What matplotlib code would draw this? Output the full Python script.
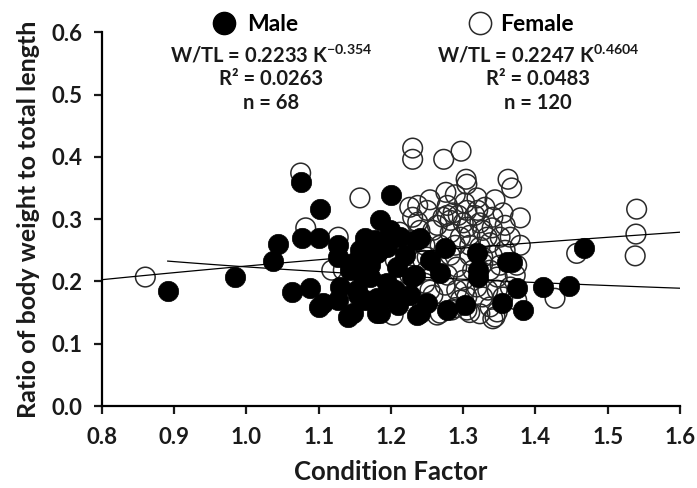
import numpy as np
import matplotlib
matplotlib.use('Agg')
import matplotlib.pyplot as plt
from matplotlib.lines import Line2D

plt.rcParams['font.family'] = ['Lato', 'DejaVu Sans']
plt.rcParams['font.weight'] = 'bold'
plt.rcParams['mathtext.fontset'] = 'custom'
plt.rcParams['mathtext.rm'] = 'Lato:bold'
plt.rcParams['mathtext.bf'] = 'Lato:bold'
plt.rcParams['mathtext.default'] = 'bf'

# Male (filled circles): condition factor K, W/TL
male_k = [0.891, 0.984, 1.037, 1.044, 1.063, 1.088, 1.100, 1.077, 1.100, 1.102,
          1.075, 1.127, 1.127, 1.127, 1.140, 1.154, 1.185, 1.200, 1.181, 1.164,
          1.240, 1.275, 1.229, 1.268, 1.319, 1.320, 1.250, 1.236, 1.278, 1.302,
          1.354, 1.361, 1.153, 1.171, 1.181, 1.147, 1.374, 1.383, 1.410, 1.446,
          1.467, 1.235, 1.233, 1.320, 1.181, 1.194, 1.208, 1.171, 1.147, 1.129,
          1.185, 1.185, 1.240, 1.106, 1.212, 1.194, 1.161, 1.367, 1.206, 1.219,
          1.157, 1.199, 1.143, 1.226, 1.254, 1.178, 1.210, 1.164]
male_w = [0.185, 0.207, 0.233, 0.260, 0.183, 0.189, 0.159, 0.270, 0.270, 0.316,
          0.359, 0.258, 0.239, 0.170, 0.143, 0.178, 0.298, 0.339, 0.149, 0.270,
          0.270, 0.253, 0.207, 0.213, 0.245, 0.218, 0.165, 0.146, 0.154, 0.162,
          0.165, 0.231, 0.186, 0.207, 0.173, 0.149, 0.189, 0.154, 0.191, 0.193,
          0.253, 0.266, 0.210, 0.207, 0.245, 0.255, 0.223, 0.226, 0.229, 0.191,
          0.170, 0.149, 0.149, 0.165, 0.271, 0.197, 0.207, 0.231, 0.186, 0.242,
          0.250, 0.282, 0.218, 0.178, 0.234, 0.266, 0.162, 0.170]

# Female (open circles)
female_k = [0.860, 1.082, 1.075, 1.157, 1.127, 1.118, 1.230, 1.230, 1.273, 1.297,
            1.304, 1.305, 1.276, 1.362, 1.367, 1.379, 1.319, 1.540, 1.539, 1.538,
            1.457, 1.427, 1.374, 1.344, 1.217, 1.203, 1.278, 1.305, 1.341, 1.355,
            1.347, 1.341, 1.258, 1.134, 1.230, 1.240, 1.302, 1.250, 1.272, 1.286,
            1.300, 1.323, 1.340, 1.351, 1.333, 1.296, 1.282, 1.258, 1.250, 1.291,
            1.300, 1.291, 1.347, 1.347, 1.365, 1.337, 1.268, 1.305, 1.327, 1.374,
            1.323, 1.237, 1.237, 1.226, 1.264, 1.278, 1.282, 1.293, 1.289, 1.305,
            1.327, 1.337, 1.327, 1.309, 1.337, 1.355, 1.244, 1.250, 1.254, 1.275,
            1.319, 1.327, 1.305, 1.323, 1.264, 1.284, 1.212, 1.185, 1.247, 1.309,
            1.313, 1.282, 1.268, 1.358, 1.316, 1.344, 1.254, 1.289, 1.330, 1.309,
            1.365, 1.379, 1.351, 1.372, 1.334, 1.309, 1.289, 1.244, 1.226, 1.206,
            1.174, 1.265, 1.296, 1.278, 1.320, 1.358, 1.340, 1.247, 1.302, 1.229]
female_w = [0.207, 0.286, 0.374, 0.334, 0.271, 0.218, 0.414, 0.396, 0.396, 0.409,
            0.364, 0.356, 0.343, 0.364, 0.350, 0.302, 0.334, 0.316, 0.276, 0.241,
            0.245, 0.173, 0.226, 0.143, 0.175, 0.146, 0.306, 0.314, 0.303, 0.310,
            0.151, 0.140, 0.178, 0.218, 0.303, 0.282, 0.326, 0.314, 0.303, 0.310,
            0.294, 0.294, 0.286, 0.271, 0.271, 0.271, 0.278, 0.282, 0.239, 0.223,
            0.202, 0.186, 0.207, 0.186, 0.191, 0.159, 0.149, 0.154, 0.229, 0.170,
            0.255, 0.322, 0.295, 0.319, 0.290, 0.322, 0.298, 0.306, 0.258, 0.287,
            0.282, 0.262, 0.239, 0.242, 0.218, 0.175, 0.234, 0.218, 0.186, 0.194,
            0.191, 0.175, 0.175, 0.148, 0.146, 0.154, 0.279, 0.250, 0.258, 0.258,
            0.218, 0.242, 0.258, 0.250, 0.306, 0.331, 0.331, 0.339, 0.319, 0.274,
            0.271, 0.258, 0.226, 0.210, 0.186, 0.150, 0.158, 0.160, 0.210, 0.234,
            0.181, 0.226, 0.170, 0.210, 0.314, 0.290, 0.242, 0.197, 0.186, 0.266]

# power fits W/TL = a * K^b
male_a, male_b = 0.2233, -0.354
female_a, female_b = 0.2247, 0.4604

txt = '#1a1a1a'
fig = plt.figure(figsize=(6.97, 4.88), dpi=100)
ax = fig.add_axes([0.1463, 0.168, 0.8293, 0.766])

ax.scatter(female_k, female_w, s=200, facecolors='none', edgecolors='#2a2a2a',
           linewidths=1.1, zorder=2)
ax.scatter(male_k, male_w, s=215, facecolors='black', edgecolors='black',
           linewidths=0.5, zorder=3)

kf = np.linspace(0.8, 1.6, 100)
ax.plot(kf, female_a * kf ** female_b, color='black', lw=0.9, zorder=4)
km = np.linspace(min(male_k), 1.6, 100)
ax.plot(km, male_a * km ** male_b, color='black', lw=0.9, zorder=4)

ax.set_xlim(0.8, 1.6)
ax.set_ylim(0.0, 0.6)
ax.set_xticks(np.arange(0.8, 1.61, 0.1))
ax.set_yticks(np.arange(0.0, 0.61, 0.1))
ax.set_xticklabels([f'{v:.1f}' for v in np.arange(0.8, 1.61, 0.1)])
ax.set_yticklabels([f'{v:.1f}' for v in np.arange(0.0, 0.61, 0.1)])
for s in ['top', 'right']:
    ax.spines[s].set_visible(False)
for s in ['left', 'bottom']:
    ax.spines[s].set_linewidth(1.6)
ax.tick_params(direction='out', length=6, width=1.6, labelsize=16, colors=txt)
ax.tick_params(axis='y', pad=8)
ax.tick_params(axis='x', pad=9)
ax.set_xlabel('Condition Factor', fontsize=18.5, fontweight='bold', labelpad=9,
              color=txt)
ax.set_ylabel('Ratio of body weight to total length', fontsize=18,
              fontweight='bold', labelpad=8, color=txt)

# legend-like headers
male_h = Line2D([], [], ls='none', marker='o', ms=16, mfc='black', mec='black')
fem_h = Line2D([], [], ls='none', marker='o', ms=16, mfc='none', mec='#2a2a2a', mew=1.1)
leg1 = fig.legend([male_h], ['Male'], loc='center left', bbox_to_anchor=(0.305, 0.949),
                  frameon=False, handlelength=1, handletextpad=0.5, borderpad=0,
                  borderaxespad=0, prop={'size': 16.5, 'weight': 'bold'})
leg2 = fig.legend([fem_h], ['Female'], loc='center left', bbox_to_anchor=(0.672, 0.949),
                  frameon=False, handlelength=1, handletextpad=0.4, borderpad=0,
                  borderaxespad=0, prop={'size': 16.5, 'weight': 'bold'})

male_lines = [r'W/TL = 0.2233 K$^{-0.354}$', 'R² = 0.0263', 'n = 68']
female_lines = [r'W/TL = 0.2247 K$^{0.4604}$', 'R² = 0.0483', 'n = 120']
for i, (ml, fl) in enumerate(zip(male_lines, female_lines)):
    yy = 1 - (55 + 24 * i) / 488
    fig.text(271 / 697, yy, ml, ha='center', va='center', fontsize=14.5,
             fontweight='bold', color=txt)
    fig.text(538 / 697, yy, fl, ha='center', va='center', fontsize=14.5,
             fontweight='bold', color=txt)

fig.savefig('out.png', dpi=100)
